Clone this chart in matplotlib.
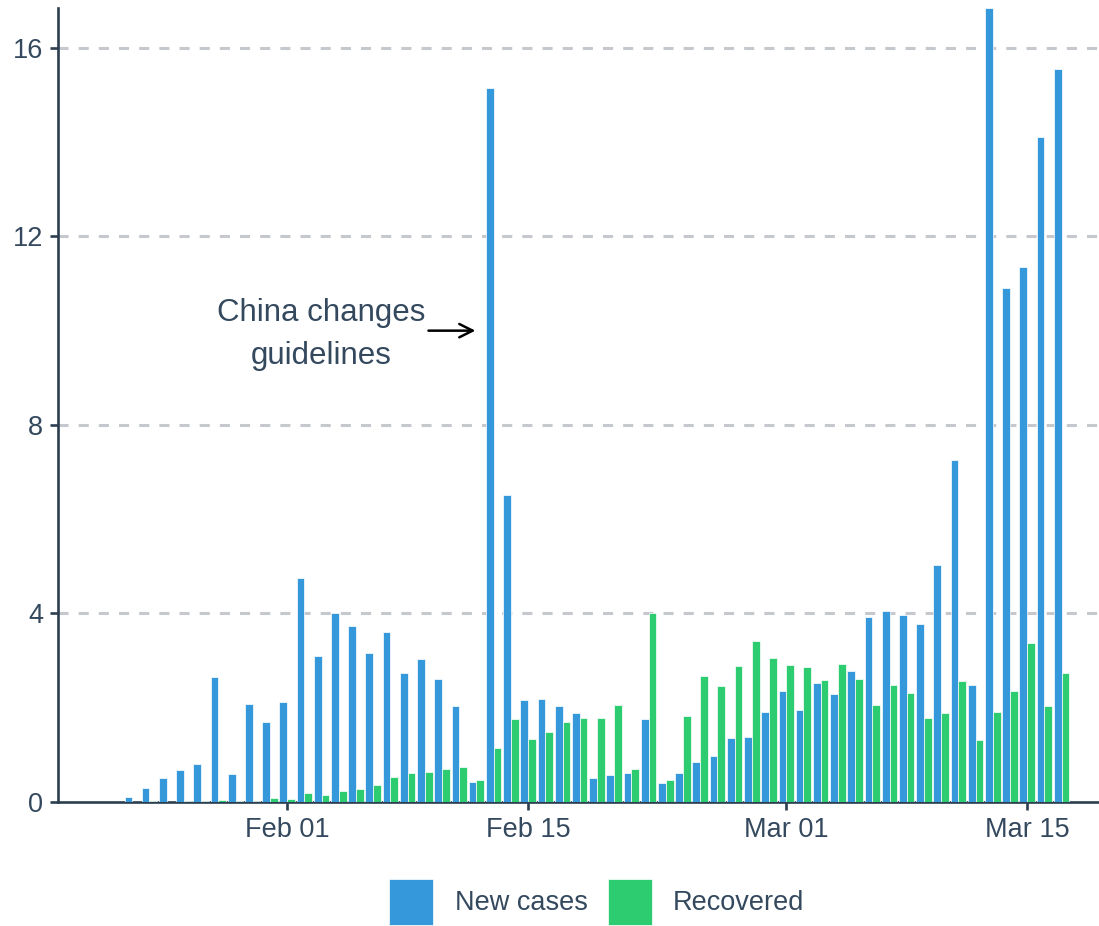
import datetime as dt
import numpy as np
import matplotlib
matplotlib.use('Agg')
import matplotlib.pyplot as plt
import matplotlib.dates as mdates

plt.rcParams['font.family'] = ['Liberation Sans', 'DejaVu Sans']

# daily counts, thousands, Jan 23 .. Mar 17 2020
start = dt.date(2020, 1, 23)
new_cases = [0.10, 0.29, 0.50, 0.68, 0.81, 2.65, 0.59, 2.07, 1.69,
             2.11, 4.75, 3.09, 4.01, 3.74, 3.16, 3.60, 2.73, 3.03, 2.61, 2.04,
             0.42, 15.15, 6.52, 2.15, 2.19, 2.03, 1.88, 0.50, 0.56, 0.62,
             1.75, 0.39, 0.60, 0.85, 0.98, 1.36, 1.37, 1.90,
             2.36, 1.94, 2.53, 2.28, 2.77, 3.92, 4.05, 3.97, 3.77, 5.03,
             7.26, 2.48, 16.85, 10.90, 11.35, 14.12, 15.55]
recovered = [0.002, 0.006, 0.003, 0.013, 0.009, 0.046, 0.019, 0.017, 0.079,
             0.062, 0.19, 0.15, 0.23, 0.27, 0.36, 0.52, 0.60, 0.63, 0.70, 0.74,
             0.47, 1.14, 1.76, 1.34, 1.47, 1.70, 1.77, 1.77, 2.05, 0.69,
             4.01, 0.46, 1.81, 2.66, 2.45, 2.88, 3.42, 3.06,
             2.90, 2.86, 2.59, 2.93, 2.60, 2.05, 2.47, 2.31, 1.78, 1.88,
             2.57, 1.30, 1.91, 2.34, 3.38, 2.03, 2.73]
dates = [start + dt.timedelta(days=i) for i in range(len(new_cases))]
tick_dates = [dt.date(2020, 2, 1), dt.date(2020, 2, 15),
              dt.date(2020, 3, 1), dt.date(2020, 3, 15)]
yticks = [0, 4, 8, 12, 16]

BLUE = '#3498db'
GREEN = '#2ecc71'
DARK = '#2c3e50'
TEXT = '#34495e'

fig = plt.figure(figsize=(10.99, 9.26), dpi=100)
ax = fig.add_axes([0.053, 0.1342, 0.947, 0.8572])

x = mdates.date2num(dates)
w = 0.45
ax.bar(x, new_cases, width=-w, align='edge', color=BLUE,
       edgecolor='white', linewidth=0.5, label='New cases', zorder=3)
ax.bar(x, recovered, width=w, align='edge', color=GREEN,
       edgecolor='white', linewidth=0.5, label='Recovered', zorder=3)

left = mdates.date2num(dt.date(2020, 1, 22)) - 3.3
ax.set_xlim(left, left + 60.47)
ax.set_ylim(0, max(new_cases))

ax.set_xticks(mdates.date2num(tick_dates))
ax.xaxis.set_major_formatter(mdates.DateFormatter('%b %d'))
ax.set_yticks(yticks)

for g in yticks[1:]:
    ax.axhline(g, color='#c5c8cc', lw=2.2, dashes=(3.3, 3.3), zorder=1)

for s in ['top', 'right']:
    ax.spines[s].set_visible(False)
for s in ['left', 'bottom']:
    ax.spines[s].set_color(DARK)
    ax.spines[s].set_linewidth(1.9)
ax.tick_params(axis='both', colors=DARK, width=1.9, length=6,
               labelsize=19.5, labelcolor=TEXT)
ax.tick_params(axis='y', pad=5)
ax.tick_params(axis='x', pad=5)

feb = mdates.date2num(dt.date(2020, 2, 1))
ax.text(feb + 1.95, 9.92, 'China changes\nguidelines', ha='center', va='center',
        fontsize=22.5, color=TEXT, linespacing=1.6)
ax.annotate('', xy=(feb + 11.1, 10.0), xytext=(feb + 8.05, 10.0),
            arrowprops=dict(arrowstyle='->', color='black', lw=1.8,
                            mutation_scale=24))

fig.legend(loc='center', bbox_to_anchor=(0.543, 0.026), ncol=2, frameon=False,
           fontsize=19.5, labelcolor=TEXT, handlelength=1.63, handleheight=2.2,
           handletextpad=0.78, columnspacing=0.74)

fig.savefig('out.png', dpi=100)
